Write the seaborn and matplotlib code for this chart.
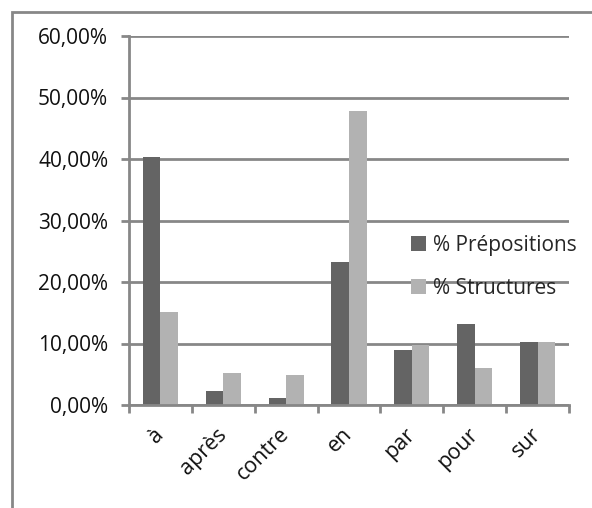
import pandas as pd
import seaborn as sns
import matplotlib.pyplot as plt
from matplotlib.patches import Rectangle
from matplotlib.ticker import FuncFormatter, FixedLocator

# Données (en %)
prepositions = ["à", "après", "contre", "en", "par", "pour", "sur"]
pct_prepositions = [40.3, 2.3, 1.1, 23.2, 8.9, 13.2, 10.3]
pct_structures = [15.2, 5.2, 4.9, 47.8, 9.7, 6.0, 10.3]
series = ["% Prépositions", "% Structures"]

df = pd.DataFrame({
    "prep": prepositions * 2,
    "value": pct_prepositions + pct_structures,
    "serie": [series[0]] * len(prepositions) + [series[1]] * len(prepositions),
})

sns.set_style("white")
plt.rcParams["font.family"] = ["Open Sans", "DejaVu Sans"]

grid_col = "#878787"
fsize = 15
fig = plt.figure(figsize=(5.92, 5.08), dpi=100)
ax = fig.add_axes([129 / 592, 1 - 405 / 508, 440 / 592, 369 / 508])

sns.barplot(data=df, x="prep", y="value", hue="serie", ax=ax,
            palette={series[0]: "#646464", series[1]: "#b2b2b2"},
            width=0.56, saturation=1, gap=0, edgecolor="none")

ax.set_ylim(0, 60)
ax.set_xlim(-0.5, len(prepositions) - 0.5)
ax.set_yticks(range(0, 61, 10))
ax.yaxis.set_major_formatter(FuncFormatter(lambda v, p: f"{v:.2f}%".replace(".", ",")))
ax.grid(axis="y", color=grid_col, linewidth=2)
ax.set_axisbelow(True)
ax.set_xlabel("")
ax.set_ylabel("")

for s in ["top", "right"]:
    ax.spines[s].set_visible(False)
for s in ["left", "bottom"]:
    ax.spines[s].set_color(grid_col)
    ax.spines[s].set_linewidth(2)

ax.tick_params(axis="y", direction="out", length=6, width=2, color=grid_col,
               labelsize=fsize, pad=9, left=True, labelcolor="#111111")
ax.xaxis.set_minor_locator(FixedLocator([i - 0.5 for i in range(len(prepositions) + 1)]))
ax.tick_params(axis="x", which="minor", direction="out", length=6, width=2,
               color=grid_col, bottom=True)
ax.tick_params(axis="x", which="major", length=0, pad=19, labelcolor="#111111")
ax.set_xticks(range(len(prepositions)))
ax.set_xticklabels(prepositions, rotation=45, ha="right", va="center",
                   rotation_mode="anchor", fontsize=fsize + 0.5)

sns.move_legend(ax, "center left", bbox_to_anchor=(392 / 592, 1 - 267 / 508),
                bbox_transform=fig.transFigure, frameon=False, title=None,
                fontsize=fsize, handlelength=0.75, handleheight=0.75,
                handletextpad=0.3, labelspacing=1.05)

# cadre extérieur du graphique
fig.patches.append(Rectangle((12 / 592, -0.1), 1.2, 1.1 - 12 / 508,
                             transform=fig.transFigure, fill=False,
                             edgecolor=grid_col, linewidth=2))

fig.savefig("out.png", dpi=100)
